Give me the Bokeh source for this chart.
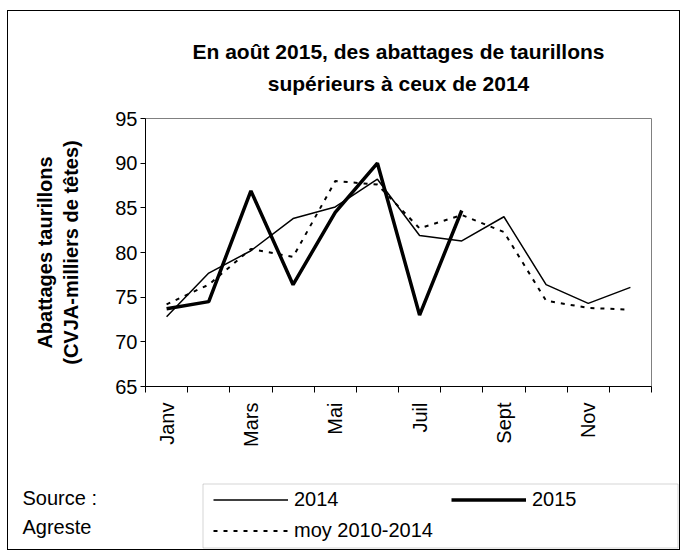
import math
from bokeh.plotting import figure
from bokeh.layouts import column
from bokeh.models import (Range1d, FixedTicker, Label, Legend, LegendItem,
                          BoxAnnotation, ColumnDataSource)
from bokeh.embed import file_html
from bokeh.resources import INLINE

# ---- data ----
months = ["Janv", "Févr", "Mars", "Avr", "Mai", "Juin",
          "Juil", "Août", "Sept", "Oct", "Nov", "Déc"]
shown_labels = ["Janv", "Mars", "Mai", "Juil", "Sept", "Nov"]
y_ticks = [65, 70, 75, 80, 85, 90, 95]
v2014 = [72.8, 77.7, 80.2, 83.8, 85.1, 88.2, 81.9, 81.3, 84.0, 76.4, 74.3, 76.1]
v2015 = [73.7, 74.5, 86.9, 76.4, 84.5, 90.0, 73.0, 84.7]
vmoy = [74.2, 76.4, 80.4, 79.5, 88.0, 87.6, 82.7, 84.2, 82.3, 74.6, 73.8, 73.6]

title_lines = ["En août 2015, des abattages de taurillons",
               "supérieurs à ceux de 2014"]
ylabel_text = "Abattages taurillons\n(CVJA-milliers de têtes)"
source_lines = ["Source :", "Agreste"]
series_names = ["2014", "2015", "moy 2010-2014"]

FONT = "Liberation Sans"
W = 671

STY14 = dict(line_color="black", line_width=1.5)
STY15 = dict(line_color="black", line_width=3.5)
STYM = dict(line_color="black", line_width=2, line_dash="4 6")


def blank(height):
    f = figure(width=W, height=height, output_backend="svg", toolbar_location=None,
               x_range=Range1d(0, 1), y_range=Range1d(0, 1),
               x_axis_type=None, y_axis_type=None, frame_align=False,
               min_border=0, min_border_left=0, min_border_right=0,
               min_border_top=0, min_border_bottom=0)
    f.grid.visible = False
    f.outline_line_color = None
    f.background_fill_color = "white"
    f.border_fill_color = "white"
    return f


# ---- top: title ----
top = blank(92)
for yy, t in zip([52, 20], title_lines):
    top.add_layout(Label(x=390, y=yy, x_units="screen", y_units="screen",
                         text=t, text_align="center", text_baseline="alphabetic",
                         text_font=FONT, text_font_size="21px",
                         text_font_style="bold", text_color="black"))

# ---- main chart ----
xs = list(range(1, len(months) + 1))
src14 = ColumnDataSource(dict(x=xs, y=v2014))
src15 = ColumnDataSource(dict(x=xs[:len(v2015)], y=v2015))
srcm = ColumnDataSource(dict(x=xs, y=vmoy))

p = figure(width=W, height=357, output_backend="svg", toolbar_location=None,
           x_range=Range1d(0.5, 12.5), y_range=Range1d(65, 95), frame_align=False,
           min_border_left=137, min_border_right=28,
           min_border_top=15, min_border_bottom=74)
p.xgrid.visible = False
p.ygrid.visible = False
p.outline_line_color = "#808080"
p.outline_line_width = 1
p.background_fill_color = "white"
p.border_fill_color = "white"

p.line("x", "y", source=srcm, **STYM)
p.line("x", "y", source=src14, **STY14)
p.line("x", "y", source=src15, **STY15)

label_pos = [months.index(m) + 1 for m in shown_labels]
p.xaxis.ticker = FixedTicker(ticks=label_pos,
                             minor_ticks=[i + 0.5 for i in range(0, 13)])
p.xaxis.major_label_overrides = {pos: m for pos, m in zip(label_pos, shown_labels)}
p.xaxis.major_label_orientation = math.pi / 2
p.xaxis.major_tick_out = 0
p.xaxis.major_tick_in = 0
p.xaxis.minor_tick_out = 6
p.xaxis.minor_tick_in = 0
p.xaxis.major_label_standoff = 10
p.xaxis.axis_line_color = "black"
p.xaxis.minor_tick_line_color = "black"
p.xaxis.major_label_text_font = FONT
p.xaxis.major_label_text_font_size = "20px"
p.xaxis.major_label_text_color = "black"

p.yaxis.ticker = FixedTicker(ticks=y_ticks)
p.yaxis.major_tick_out = 5
p.yaxis.major_tick_in = 0
p.yaxis.minor_tick_line_color = None
p.yaxis.major_label_standoff = 3
p.yaxis.axis_line_color = "black"
p.yaxis.major_tick_line_color = "black"
p.yaxis.major_label_text_font = FONT
p.yaxis.major_label_text_font_size = "20px"
p.yaxis.major_label_text_color = "black"
p.yaxis.axis_label = ylabel_text
p.yaxis.axis_label_text_font = FONT
p.yaxis.axis_label_text_font_size = "20px"
p.yaxis.axis_label_text_font_style = "bold"
p.yaxis.axis_label_text_color = "black"
p.yaxis.axis_label_standoff = 30

# ---- bottom: source + legend ----
bot = blank(89)
for yy, t in zip([52, 23], source_lines):
    bot.add_layout(Label(x=14, y=yy, x_units="screen", y_units="screen",
                         text=t, text_align="left", text_baseline="middle",
                         text_font=FONT, text_font_size="20px",
                         text_color="black"))

bot.add_layout(BoxAnnotation(left=194.5, right=669.5, top=65.5, bottom=1.5,
                             left_units="screen", right_units="screen",
                             top_units="screen", bottom_units="screen",
                             fill_color="white", fill_alpha=1,
                             line_color="#707070", line_width=1,
                             level="underlay"))

nan = float("nan")
d14 = bot.line([nan, nan], [nan, nan], **STY14)
d15 = bot.line([nan, nan], [nan, nan], **STY15)
dm = bot.line([nan, nan], [nan, nan], **STYM)
legend = Legend(items=[LegendItem(label=series_names[0], renderers=[d14]),
                       LegendItem(label=series_names[1], renderers=[d15]),
                       LegendItem(label=series_names[2], renderers=[dm])],
                location=(205, 3.5), orientation="horizontal", ncols=2,
                padding=0, margin=0, spacing=0,
                glyph_width=75, glyph_height=31, label_height=31,
                label_width=157, label_standoff=6,
                border_line_alpha=0, background_fill_alpha=0,
                label_text_font=FONT, label_text_font_size="20px",
                label_text_color="black")
bot.add_layout(legend, "center")

layout = column(top, p, bot, spacing=0,
                styles={"border": "1px solid black",
                        "margin": "10px 0px 0px 7px"})

open("out.html", "w").write(file_html(layout, INLINE))
